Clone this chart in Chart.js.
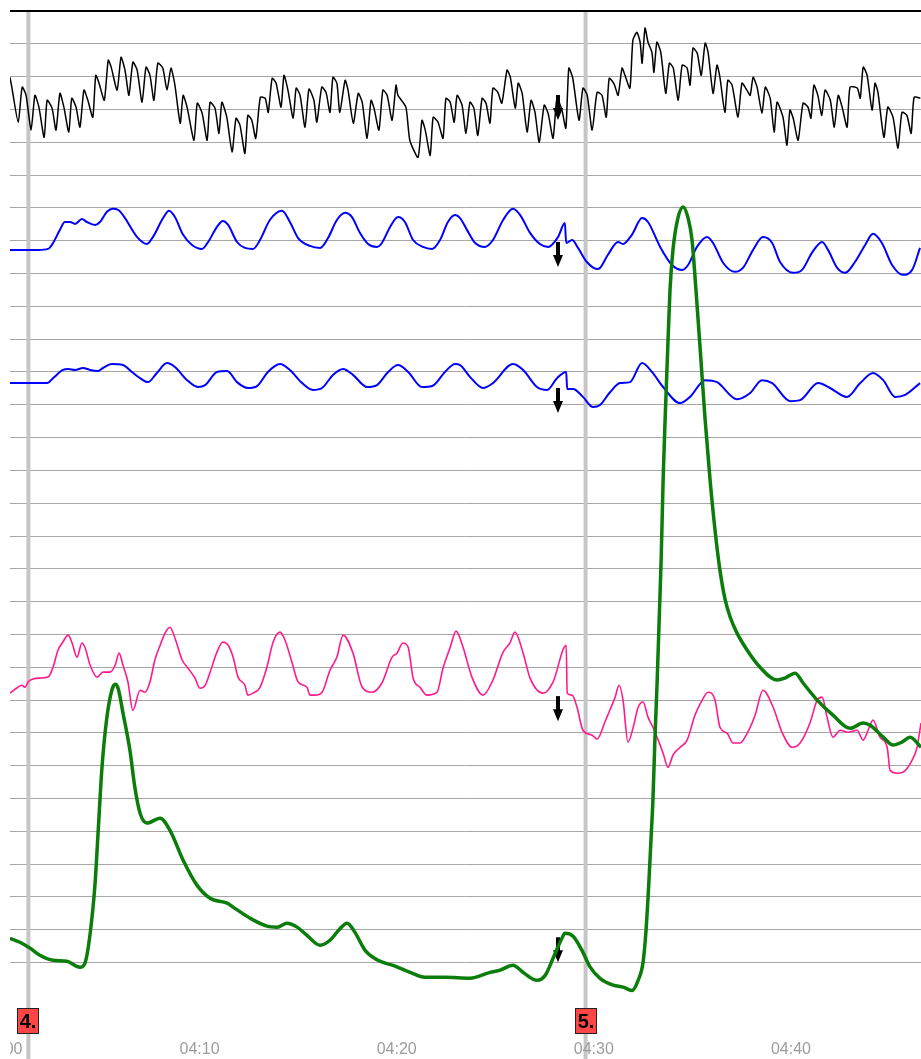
<!DOCTYPE html>
<html>
<head>
<meta charset="utf-8">
<script src="https://cdn.jsdelivr.net/npm/chart.js@4.4.0/dist/chart.umd.min.js"></script>
<style>
html, body { margin: 0; padding: 0; background: #fff; overflow: hidden; }
</style>
</head>
<body>
<canvas id="traceChart" width="921" height="1061"></canvas>
<script>
// time = seconds after 04:00, values = tenths of a grid division from the bottom

const blackT = [23,29,48,60,72,87,99,111,127,136,151,163,175,187,202,211,224,236,248,260,275,284,294,310,322,331,349,361,373,385,397,410,425,437,449,461,473,488,501,513,525,541,550,562,583,593,608,623,632,647,659,668,683,699,711,723,738,747,759,771,785,800,809,821,833,848,857,869,885,894,906,921,933,
  948,957,972,985,997,1006,1018,1027,1043,1052,1068,1083,1095,1110,1122,1131,1146,1158,1171,1186,1198,1204,1228,1240,1265,1277,1287,1302,1311,1326,1341,1350,1363,1375,1384,1399,1411,1423,1435,1447,1460,1472,1484,1493,1508,1520,1536,1546,1561,1570,1582,1597,1609,1621,1634,1649,1661,1676,1688,1703,1715,1724,1736,1755,1767,1780,1795,1810,1825,1838,1847,1862,1874,1886,
  1895,1910,1919,1931,1941,1947,1956,1965,1977,1983,1992,2004,2019,2030,2042,2057,2069,2084,2093,2102,2115,2127,2139,2148,2163,2175,2184,2199,2208,2221,2239,2251,2266,2276,2285,2297,2312,2322,2337,2349,2358,2376,2388,2397,2407,2422,2437,2452,2461,2470,2482,2494,2504,2520,2532,2544,2556,2571,2580,2602,2611,2620,2632,2647,2656,2665,2683,2695,2711,2726,2738,2753,2766,2775,2794];
const blackV = [299.8,296.5,286.1,296.8,294.3,283.7,294.3,290.7,281.5,292.8,290.4,283.7,294.9,290.7,283.1,293.4,290.7,284.6,295.9,292.8,287.6,300.4,298.0,292.8,305.0,302.9,295.9,305.9,302.0,294.3,304.4,302.0,292.2,302.9,300.4,292.8,304.1,302.6,295.9,302.6,297.4,285.8,294.3,290.7,280.6,291.9,288.8,280.6,292.2,290.4,282.7,292.2,287.6,277.0,287.3,285.2,276.6,288.2,286.7,281.2,293.7,293.4,289.1,299.5,298.0,290.7,300.4,295.9,287.3,296.5,294.3,284.6,296.2,
  292.8,286.1,296.8,295.2,289.1,299.8,298.0,289.1,298.9,295.9,285.8,294.9,292.2,281.2,292.8,290.4,283.7,295.9,294.3,286.7,297.4,294.3,290.7,280.6,275.4,286.7,283.7,276.0,287.6,286.1,281.2,293.4,292.2,286.1,294.3,291.3,282.7,292.2,290.4,282.1,293.4,291.9,285.8,296.5,295.2,291.9,302.0,299.8,290.4,298.0,294.9,283.1,292.8,289.1,280.0,291.3,288.8,281.2,293.4,289.8,284.3,302.6,299.5,286.7,296.5,294.3,283.7,295.2,294.3,287.6,299.5,297.7,294.3,302.6,
  300.4,296.5,311.1,313.5,310.5,304.1,314.8,310.5,307.4,301.3,310.5,307.4,294.9,304.1,302.6,292.8,303.5,302.6,297.4,308.7,307.1,300.4,310.2,307.4,294.9,303.5,299.8,289.1,298.9,297.4,287.6,298.0,295.9,294.3,299.8,296.8,288.8,296.8,293.4,283.1,292.2,287.6,279.1,289.8,287.3,280.6,291.9,290.7,287.3,297.4,294.3,288.2,295.9,292.8,284.6,294.3,290.7,284.6,296.8,296.5,293.4,302.9,300.4,289.8,298.0,295.2,281.5,290.7,287.6,278.2,289.1,288.2,282.7,293.7,293.4];

const blueTopT = [23,108,139,154,175,190,206,221,242,257,282,297,318,336,352,367,410,440,458,489,507,525,550,577,607,626,653,671,687,714,738,763,784,814,851,875,900,936,967,991,1018,1043,1064,1088,1113,1140,1155,1180,1204,1225,1250,1280,1308,1332,1356,1378,1393,1414,1439,1469,1493,1524,1554,1576,1606,1636,1661,1691,1712,1716,1734,1752,1779,1810,1819,1843,1874,1889,1916,1947,1965,2002,2038,2069,2087,2114,2145,2163,2194,2230,2254,2285,2315,2343,2367,2407,2434,2464,2495,2513,2541,2565,2595,2626,2650,2677,2708,2741,2769,2793];
const blueTopV = [247.2,247.2,247.5,249.3,253.3,255.7,255.7,255.1,256.6,255.7,254.8,255.7,258.8,259.7,259.4,257.8,251.1,249.0,251.1,256.9,259.1,257.2,251.8,248.7,247.5,249.6,254.2,256.0,254.8,249.6,247.8,247.5,250.2,256.3,259.1,255.7,250.8,248.4,247.8,250.8,256.3,258.5,257.2,252.4,249.0,248.1,249.3,254.2,257.2,255.7,250.2,248.1,247.5,250.2,255.7,257.8,256.9,253.3,249.3,248.1,250.2,256.3,259.7,257.8,252.4,249.0,248.1,251.1,255.4,249.3,250.2,247.8,243.5,241.4,241.7,245.7,249.6,249.0,251.8,256.9,255.7,248.1,242.6,241.1,242.6,248.1,251.1,249.3,243.2,240.5,241.7,247.2,251.1,249.3,243.5,240.2,241.1,246.3,249.6,247.2,241.7,240.2,243.5,248.7,252.1,249.3,242.6,239.6,241.1,247.8];

const blueLowT = [23,136,154,184,200,221,245,267,291,306,333,367,394,419,443,470,501,525,562,595,617,653,684,714,747,775,808,845,875,912,945,973,1006,1037,1067,1110,1140,1174,1204,1235,1277,1308,1347,1378,1393,1423,1463,1493,1554,1585,1627,1658,1688,1716,1719,1737,1767,1798,1819,1850,1880,1910,1947,1977,2011,2063,2093,2139,2175,2236,2276,2312,2343,2398,2428,2483,2519,2571,2611,2650,2681,2717,2748,2793];
const blueLowV = [206.6,206.6,208.1,210.6,210.9,210.6,211.2,210.6,210.3,211.2,212.4,212.1,210.0,208.1,206.9,209.7,212.7,211.5,207.5,205.4,206.0,210.0,210.3,206.9,205.1,205.7,210.0,212.4,210.6,206.6,204.5,205.1,209.1,210.9,209.1,205.4,206.0,210.0,212.1,210.0,205.4,205.7,210.0,212.4,212.1,208.5,205.1,206.6,212.4,210.6,205.4,204.5,208.1,210.0,204.8,204.8,202.4,199.3,199.9,203.9,206.6,206.9,212.7,210.0,205.4,200.5,202.4,207.5,206.9,201.7,203.6,207.5,206.6,201.1,201.4,206.6,205.1,202.4,206.6,209.7,207.5,202.4,203.0,206.6];

const pinkT = [23,47,59,69,78,93,114,139,154,169,184,200,212,227,242,251,267,288,306,327,343,355,367,382,397,419,434,449,464,480,495,510,525,547,565,586,601,617,632,653,671,687,702,717,738,747,763,784,805,824,845,860,881,900,927,936,951,973,997,1018,1037,1067,1095,1125,1155,1186,1201,1219,1235,1250,1271,1292,1323,1341,1362,1381,1402,1429,1463,1493,1524,1545,1560,1585,1606,1646,1676,1716,1719,1734,1749,1767,1795,1810,1834,1840,1865,1877,1889,1904,1920,1935,1950,1965,1980,1996,2011,2026,2041,2063,2084,2108,2130,2148,2169,2184,2206,2224,2245,2267,2291,2315,2346,2373,2404,2428,2458,2480,2495,2510,2528,2550,2574,2601,2620,2635,2650,2671,2693,2702,2723,2741,2769,2784,2796];
const pinkV = [112.1,113.9,114.5,113.9,115.5,116.4,116.7,117.0,120.0,125.2,127.7,129.8,127.4,123.1,127.4,126.1,120.6,117.0,118.5,118.5,120.6,124.3,120.6,115.5,106.9,113.0,112.4,115.5,122.2,126.7,130.4,132.2,128.9,122.2,119.7,116.7,113.6,114.5,118.5,124.6,127.7,126.7,123.1,117.0,114.5,111.5,112.1,113.9,120.0,127.7,130.7,128.3,121.6,115.5,113.9,111.5,111.5,112.4,119.1,123.1,129.8,124.3,113.9,112.4,115.2,123.1,124.3,127.4,126.1,116.7,113.9,111.5,112.4,119.7,125.8,131.0,126.1,117.0,111.5,116.1,124.6,127.4,130.7,124.3,116.7,112.1,115.5,126.7,112.1,111.5,107.8,100.8,99.3,98.1,103.3,104.8,110.9,114.5,110.0,97.2,101.7,107.8,109.4,104.8,101.7,97.8,93.8,89.5,93.2,95.6,97.8,105.4,110.0,112.4,110.0,101.7,99.9,96.9,96.9,99.9,105.4,113.0,107.8,100.2,95.6,96.9,103.0,110.0,110.9,104.8,98.7,100.8,100.2,100.8,97.8,100.8,103.9,98.7,95.6,88.6,87.7,88.0,91.7,95.6,103.0];

const greenT = [23,53,84,114,154,196,236,251,267,282,291,303,318,333,343,352,367,388,403,419,440,480,510,550,592,632,684,702,754,805,836,866,897,927,967,997,1028,1049,1073,1104,1143,1195,1241,1286,1347,1423,1484,1515,1554,1585,1627,1652,1676,1703,1712,1737,1764,1789,1819,1859,1889,1916,1935,1950,1959,1968,1974,1980,1986,1993,1999,2005,2011,2017,2026,2032,2041,2056,2072,2087,2099,2111,2124,2139,2154,2169,2184,2200,2215,2236,2267,2306,2358,2382,2413,2437,2480,2528,2580,2620,2641,2681,2711,2738,2763,2796];
const greenV = [37.4,36.2,34.4,32.2,30.7,30.4,28.6,29.8,38.9,54.2,69.4,89.5,104.8,113.0,114.8,113.6,106.0,94.7,83.4,75.5,72.5,74.0,70.3,61.2,53.6,49.6,48.1,46.9,43.5,41.1,40.8,42.0,40.8,38.3,35.3,36.8,40.4,42.0,39.2,33.7,30.7,28.9,27.0,25.5,25.5,25.2,27.0,27.7,29.2,27.0,24.6,26.1,31.3,37.4,38.9,38.0,33.7,28.6,25.2,23.1,22.5,21.5,24.6,30.1,39.8,55.1,67.3,79.5,97.8,116.1,134.4,152.7,177.0,195.3,219.7,235.0,247.2,256.9,260.3,256.9,250.2,235.0,216.7,195.3,177.0,161.8,149.6,140.5,135.3,130.4,125.2,120.0,116.1,116.7,118.2,115.2,110.0,105.4,101.4,103.0,102.3,98.7,96.3,97.2,98.7,95.6];

const eventTimes = [79, 1775];
const eventLabels = ["4.", "5."];
const arrowTime = 1691;
const arrowValues = [294.4, 249.6, 205.1, 111.2, 37.7];
const timeTicks = [0, 600, 1200, 1800, 2400];
const timeLabels = ["04:00", "04:10", "04:20", "04:30", "04:40"];

function pts(t, v) {
  return t.map(function (x, i) { return {x: x, y: v[i]}; });
}

const marks = {
  id: "marks",
  beforeDatasetsDraw: function (chart) {
    const ctx = chart.ctx, area = chart.chartArea, xs = chart.scales.x;
    ctx.save();
    ctx.strokeStyle = "#c6c6c6";
    ctx.lineWidth = 4;
    eventTimes.forEach(function (t) {
      const px = xs.getPixelForValue(t);
      ctx.beginPath();
      ctx.moveTo(px, area.top + 1);
      ctx.lineTo(px, area.bottom);
      ctx.stroke();
    });
    ctx.restore();
  },
  afterDatasetDraw: function (chart, args) {
    // arrows go after the pink trace, under the green one
    if (args.index !== 1) return;
    const ctx = chart.ctx, xs = chart.scales.x, ys = chart.scales.y;
    const px = xs.getPixelForValue(arrowTime);
    ctx.save();
    ctx.fillStyle = "#000";
    arrowValues.forEach(function (v) {
      const py = ys.getPixelForValue(v);
      ctx.fillRect(px - 2, py, 4, 14);
      ctx.beginPath();
      ctx.moveTo(px - 5, py + 13);
      ctx.lineTo(px + 5, py + 13);
      ctx.lineTo(px, py + 25);
      ctx.closePath();
      ctx.fill();
    });
    ctx.restore();
  },
  afterDatasetsDraw: function (chart) {
    const ctx = chart.ctx, area = chart.chartArea, xs = chart.scales.x, ys = chart.scales.y;
    ctx.save();
    // event boxes
    const boxTop = ys.getPixelForValue(16);
    eventTimes.forEach(function (t, i) {
      const px = Math.round(xs.getPixelForValue(t));
      ctx.fillStyle = "#ff4646";
      ctx.fillRect(px - 10.5, boxTop, 21, 25);
      ctx.strokeStyle = "#222";
      ctx.lineWidth = 1;
      ctx.strokeRect(px - 10.5, boxTop, 21, 25);
      ctx.fillStyle = "#000";
      ctx.font = "bold 20px 'Liberation Sans Narrow', 'Liberation Sans', sans-serif";
      ctx.textAlign = "center";
      ctx.textBaseline = "middle";
      ctx.fillText(eventLabels[i], px, boxTop + 13.5);
    });
    // time labels inside the plot, clipped at the left edge
    ctx.beginPath();
    ctx.rect(area.left, area.top, area.right - area.left, area.bottom - area.top);
    ctx.clip();
    ctx.fillStyle = "#9c9c9c";
    ctx.font = "16px 'Liberation Sans', sans-serif";
    ctx.textAlign = "center";
    ctx.textBaseline = "middle";
    timeTicks.forEach(function (t, i) {
      ctx.fillText(timeLabels[i], xs.getPixelForValue(t), area.bottom - 11);
    });
    ctx.restore();
  }
};

const traceChart = new Chart("traceChart", {
  type: "line",
  data: {
    datasets: [
      {data: pts(greenT, greenV), borderColor: "#0a7d0a", borderWidth: 3.5, cubicInterpolationMode: "monotone", order: 1},
      {data: pts(pinkT, pinkV), borderColor: "#ff1a8c", borderWidth: 1.6, cubicInterpolationMode: "monotone", order: 2},
      {data: pts(blueLowT, blueLowV), borderColor: "#0000ff", borderWidth: 2, cubicInterpolationMode: "monotone", order: 3},
      {data: pts(blueTopT, blueTopV), borderColor: "#0000ff", borderWidth: 2, cubicInterpolationMode: "monotone", order: 4},
      {data: pts(blackT, blackV), borderColor: "#000000", borderWidth: 1.5, tension: 0.2, order: 5}
    ]
  },
  options: {
    responsive: false,
    animation: false,
    devicePixelRatio: 1,
    layout: {padding: {left: 10, top: 11, right: 0, bottom: 0}},
    elements: {point: {radius: 0}, line: {fill: false}},
    plugins: {legend: {display: false}, tooltip: {enabled: false}},
    scales: {
      x: {
        type: "linear", min: 23, max: 2796,
        afterFit: function (s) { s.height = 0; },
        ticks: {display: false, stepSize: 300},
        border: {display: false},
        grid: {
          drawTicks: false, lineWidth: 1,
          color: function (c) { return c.tick.value % 300 === 0 ? "#a6a6a6" : "rgba(0,0,0,0)"; }
        }
      },
      y: {
        min: 0, max: 320,
        afterFit: function (s) { s.width = 0; },
        ticks: {display: false, stepSize: 10},
        border: {display: false},
        grid: {
          drawTicks: false,
          color: function (c) {
            if (c.tick.value >= 320) return "#000";
            return c.tick.value >= 30 ? "#a6a6a6" : "rgba(0,0,0,0)";
          },
          lineWidth: function (c) { return c.tick.value >= 320 ? 2 : 1; }
        }
      }
    }
  },
  plugins: [marks]
});
console.log("Chart is " + traceChart.id);
</script>
</body>
</html>
